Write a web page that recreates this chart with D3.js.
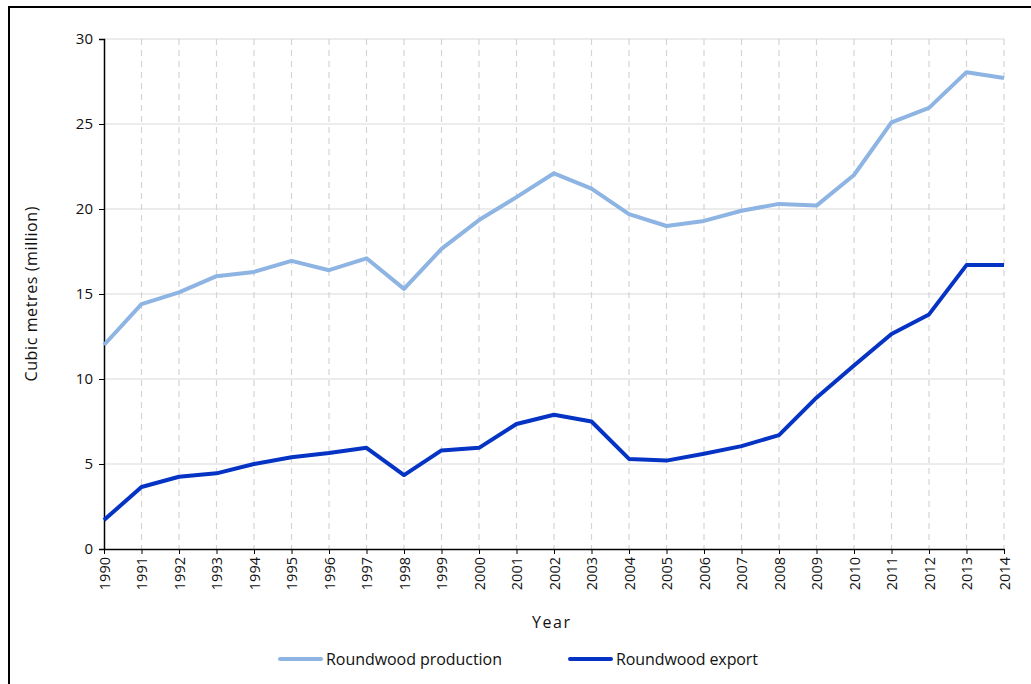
<!DOCTYPE html>
<html><head><meta charset="utf-8">
<script src="https://cdn.jsdelivr.net/npm/d3@7"></script>
<style>body{margin:0;background:#fff;} text{font-family:"Open Sans","Noto Sans",sans-serif;fill:#111;}</style>
</head><body>
<svg id="c" width="1031" height="684"></svg>
<script>
const years = [1990,1991,1992,1993,1994,1995,1996,1997,1998,1999,2000,2001,2002,2003,2004,2005,2006,2007,2008,2009,2010,2011,2012,2013,2014];
const production = [12.0,14.4,15.1,16.05,16.3,16.95,16.4,17.1,15.3,17.65,19.35,20.7,22.1,21.2,19.7,19.0,19.3,19.9,20.3,20.2,22.0,25.1,25.95,28.05,27.7];
const exportVals = [1.7,3.65,4.25,4.45,5.0,5.4,5.65,5.95,4.35,5.8,5.95,7.35,7.9,7.5,5.3,5.2,5.6,6.05,6.7,8.9,10.8,12.65,13.8,16.7,16.7];
const yTicks = [0,5,10,15,20,25,30];
const seriesNames = ["Roundwood production","Roundwood export"];
const seriesColors = ["#8DB4E2","#0533C4"];

const svg = d3.select("#c");
svg.append("rect").attr("x",9).attr("y",7).attr("width",1040).attr("height",700)
  .attr("fill","none").attr("stroke","#000").attr("stroke-width",2);

const L=104,R=1004,T=39,B=549;
const x = d3.scaleLinear().domain([1990,2014]).range([L,R]);
const y = d3.scaleLinear().domain([0,30]).range([B,T]);

svg.append("g").selectAll("line").data(yTicks.filter(d=>d>0)).join("line")
  .attr("x1",L).attr("x2",R).attr("y1",d=>y(d)).attr("y2",d=>y(d))
  .attr("stroke","#d9d9d9").attr("stroke-width",1.2);
svg.append("g").selectAll("line").data(years.slice(1)).join("line")
  .attr("x1",d=>x(d)).attr("x2",d=>x(d)).attr("y1",T).attr("y2",B)
  .attr("stroke","#d4d4d4").attr("stroke-width",1.2).attr("stroke-dasharray","6,5");

const ya = svg.append("g").attr("transform",`translate(${L},0)`)
  .call(d3.axisLeft(y).tickValues(yTicks).tickSize(5).tickPadding(6));
ya.select(".domain").attr("stroke","#000").attr("stroke-width",1.5);
ya.selectAll("line").attr("stroke","#000");
ya.selectAll("text").style("font-size","15px").attr("fill","#111");

const xa = svg.append("g").attr("transform",`translate(0,${B})`)
  .call(d3.axisBottom(x).tickValues(years).tickFormat(d3.format("d")).tickSize(5).tickSizeOuter(0));
xa.select(".domain").attr("stroke","#000").attr("stroke-width",1.5);
xa.selectAll("line").attr("stroke","#000");
xa.selectAll("text").style("font-size","14.5px").attr("fill","#111")
  .attr("transform","rotate(-90)").attr("text-anchor","end").attr("x",-8).attr("y",0).attr("dy","0.35em");

const line = d3.line().x((d,i)=>x(years[i])).y(d=>y(d));
[production,exportVals].forEach((s,k)=>{
  svg.append("path").datum(s).attr("d",line).attr("fill","none")
    .attr("stroke",seriesColors[k]).attr("stroke-width",4).attr("stroke-linejoin","round");
});

svg.append("text").attr("transform","translate(37,294) rotate(-90)").attr("text-anchor","middle")
  .style("font-size","16px").attr("textLength",175).attr("lengthAdjust","spacing").text("Cubic metres (million)");
svg.append("text").attr("x",551).attr("y",628).attr("text-anchor","middle")
  .style("font-size","16px").attr("textLength",38).attr("lengthAdjust","spacing").text("Year");

const legX=[280,570];
const legLen=[176,142];
seriesNames.forEach((n,k)=>{
  svg.append("line").attr("x1",legX[k]).attr("x2",legX[k]+41).attr("y1",659).attr("y2",659)
    .attr("stroke",seriesColors[k]).attr("stroke-width",4).attr("stroke-linecap","round");
  svg.append("text").attr("x",legX[k]+46).attr("y",665).style("font-size","16px")
    .attr("textLength",legLen[k]).attr("lengthAdjust","spacing").text(n);
});
</script>
</body></html>
